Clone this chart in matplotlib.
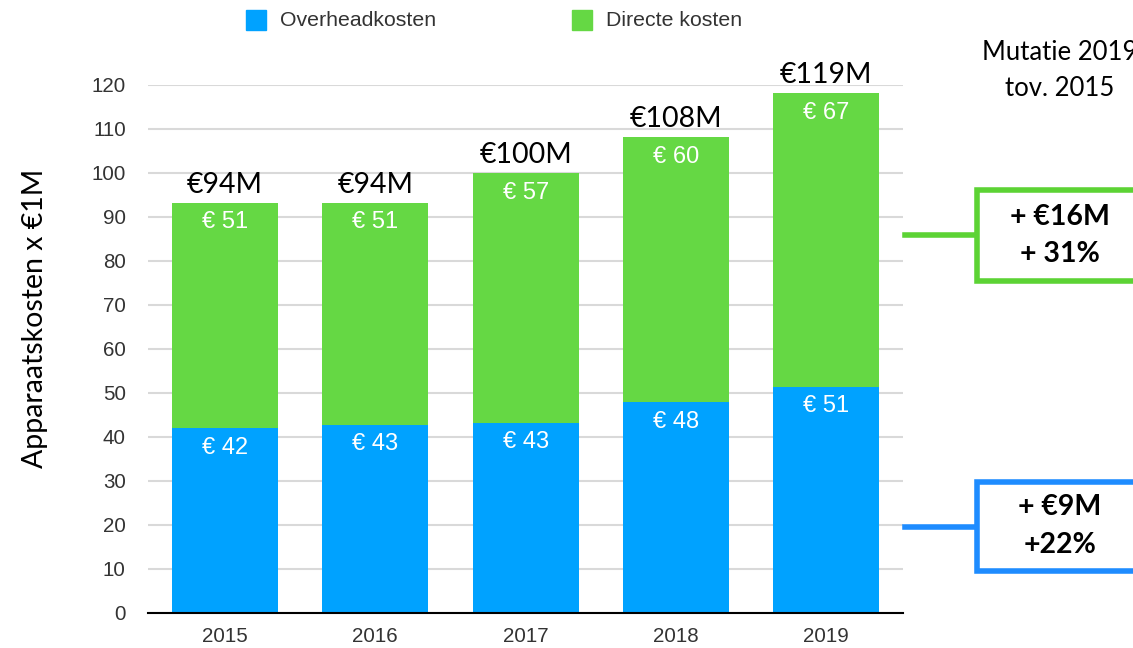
import matplotlib
matplotlib.use("Agg")
import matplotlib.pyplot as plt
from matplotlib.patches import Rectangle
from matplotlib.lines import Line2D
import numpy as np

# ---- data ----
years = ["2015", "2016", "2017", "2018", "2019"]
overhead = [42.0, 42.8, 43.2, 47.9, 51.4]
direct = [51.2, 50.4, 56.7, 60.2, 66.7]
overhead_labels = ["€ 42", "€ 43", "€ 43", "€ 48", "€ 51"]
direct_labels = ["€ 51", "€ 51", "€ 57", "€ 60", "€ 67"]
total_labels = ["€94M", "€94M", "€100M", "€108M", "€119M"]
yticks = [0, 10, 20, 30, 40, 50, 60, 70, 80, 90, 100, 110, 120]
series_names = ["Overheadkosten", "Directe kosten"]
mutatie_title = "Mutatie 2019\ntov. 2015"
direct_change = "+ €16M\n+ 31%"
overhead_change = "+ €9M\n+22%"
ylabel = "Apparaatskosten x €1M"

BLUE = "#00A2FF"
GREEN = "#65D844"
BOX_GREEN = "#5CD334"
BOX_BLUE = "#1E8CFF"

W, H = 1133, 648
fig = plt.figure(figsize=(W / 100, H / 100), dpi=100)

def fx(px):
    return px / W

def fy(py):
    return 1 - py / H

ax = fig.add_axes([fx(148), fy(613), fx(903) - fx(148), fy(85) - fy(613)])

x = np.arange(len(years))
bw = 0.705
ax.bar(x, overhead, width=bw, color=BLUE, zorder=2)
ax.bar(x, direct, width=bw, bottom=overhead, color=GREEN, zorder=2)

totals = np.array(overhead) + np.array(direct)
for i in range(len(years)):
    ax.annotate(overhead_labels[i], (x[i], overhead[i]), xytext=(0, -14),
                textcoords="offset points", ha="center", va="center",
                color="white", fontsize=17, family="Liberation Sans")
    ax.annotate(direct_labels[i], (x[i], totals[i]), xytext=(0, -14),
                textcoords="offset points", ha="center", va="center",
                color="white", fontsize=17, family="Liberation Sans")
    ax.annotate(total_labels[i], (x[i], totals[i]), xytext=(0, 7.5),
                textcoords="offset points", ha="center", va="baseline",
                color="black", fontsize=20.5, family="Lato", annotation_clip=False)

ax.set_xlim(-0.512, 4.51)
ax.set_ylim(0, 120)
ax.set_yticks(yticks)
ax.set_xticks(x)
ax.set_xticklabels(years)
ax.tick_params(axis="both", length=0, labelsize=14.8, labelcolor="#333333")
ax.tick_params(axis="y", pad=16)
ax.tick_params(axis="x", pad=10)
for lab in ax.get_xticklabels() + ax.get_yticklabels():
    lab.set_family("Liberation Sans")
ax.yaxis.grid(True, color="#d9d9d9", linewidth=1.5, zorder=0)
ax.set_axisbelow(True)
for s in ["top", "right", "left"]:
    ax.spines[s].set_visible(False)
ax.spines["bottom"].set_color("black")
ax.spines["bottom"].set_linewidth(1.5)
ax.spines["bottom"].set_zorder(3)

# y label
fig.text(fx(35), fy(318), ylabel, rotation=90, ha="center", va="center",
         fontsize=20.5, family="Lato", color="black")

# legend
for px, name, col in [(246, series_names[0], BLUE), (572, series_names[1], GREEN)]:
    fig.patches.append(Rectangle((fx(px), fy(30)), fx(20), fy(10) - fy(30),
                                 transform=fig.transFigure, color=col))
    fig.text(fx(px + 34), fy(20), name, ha="left", va="center",
             fontsize=15.3, family="Liberation Sans", color="#333333")

# Mutatie title (cut off at right edge, as in the reference)
fig.text(fx(1060), fy(70), mutatie_title, ha="center", va="center",
         fontsize=18.5, family="Lato", color="black", linespacing=1.55)

# change boxes
for (top, bot, ly, txt, col) in [(188, 283, 235, direct_change, BOX_GREEN),
                                  (479, 573, 527, overhead_change, BOX_BLUE)]:
    fig.add_artist(Line2D([fx(905), fx(976)], [fy(ly), fy(ly)], color=col,
                          linewidth=4, transform=fig.transFigure))
    fig.patches.append(Rectangle((fx(977), fy(bot - 2.5)), fx(172), fy(top + 2.5) - fy(bot - 2.5),
                                 transform=fig.transFigure, facecolor="white",
                                 edgecolor=col, linewidth=4))
    fig.text(fx(1060), fy((top + bot) / 2), txt, ha="center", va="center",
             fontsize=20.5, family="Lato", fontweight="bold", color="black",
             linespacing=1.55)

fig.savefig("out.png", dpi=100)
